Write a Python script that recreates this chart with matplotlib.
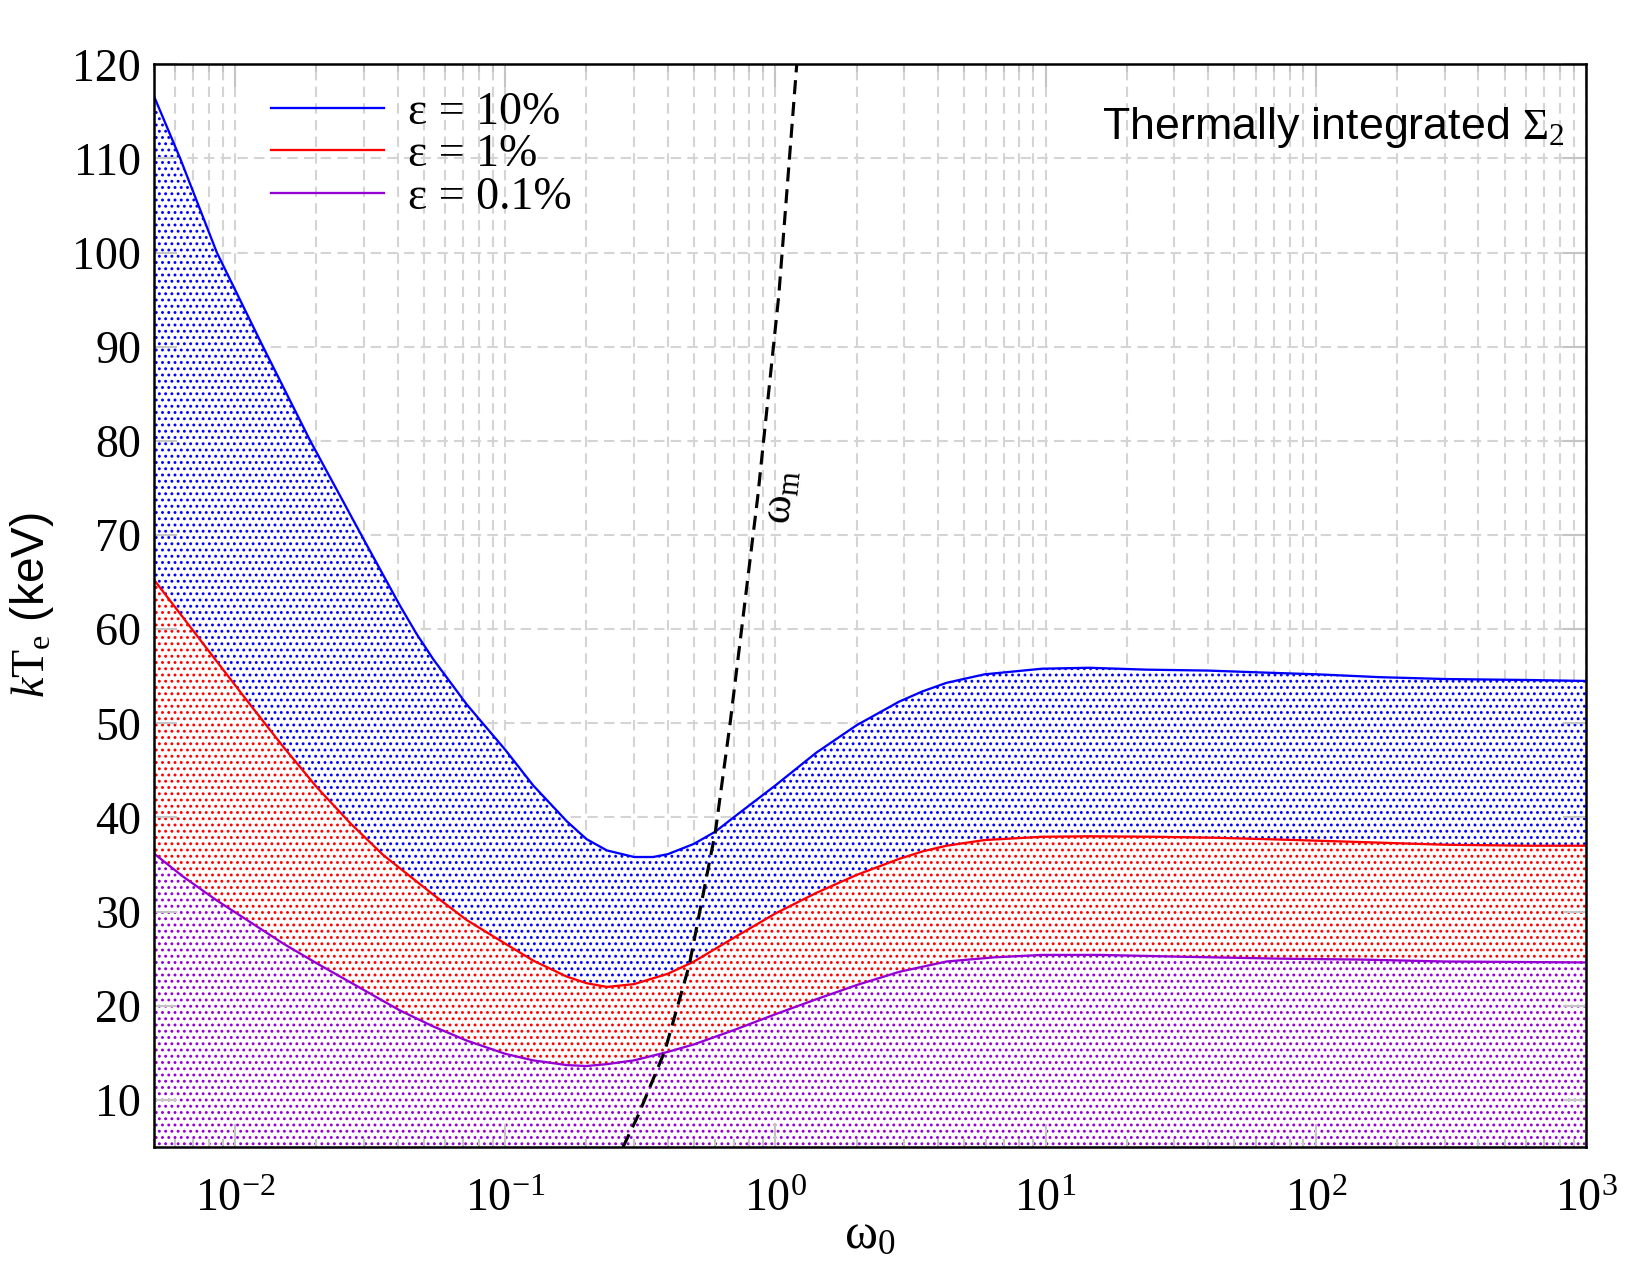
import matplotlib.pyplot as plt
from matplotlib.ticker import LogLocator, MultipleLocator, NullFormatter

plt.rcParams['font.family'] = ['Liberation Serif', 'DejaVu Serif']
plt.rcParams['mathtext.fontset'] = 'custom'
plt.rcParams['mathtext.rm'] = 'Liberation Serif'
plt.rcParams['mathtext.it'] = 'Liberation Serif:italic'
plt.rcParams['mathtext.bf'] = 'Liberation Serif:bold'
plt.rcParams['hatch.linewidth'] = 0.8

# curves: omega_0 vs kT_e (keV)
omega_blue = [0.005, 0.00627, 0.00857, 0.0127, 0.019, 0.030, 0.0408, 0.047, 0.0542,
              0.0721, 0.1, 0.127, 0.169, 0.2, 0.238, 0.3, 0.353, 0.4, 0.5, 0.6, 0.7,
              1.0, 1.42, 2.0, 2.87, 3.51, 4.3, 5.94, 9.7, 14.5, 23.6, 40, 62.7, 102,
              173, 305, 610, 1000]
kT_blue = [116.7, 110.0, 100.0, 90.0, 80.0, 69.5, 62.5, 59.5, 56.8,
           52.0, 47.2, 43.4, 39.6, 37.7, 36.5, 35.8, 35.8, 36.1, 37.2, 38.5, 40.0,
           43.4, 46.9, 49.8, 52.3, 53.4, 54.3, 55.2, 55.8, 55.9, 55.7, 55.6, 55.4, 55.2,
           54.9, 54.7, 54.6, 54.5]

omega_red = [0.005, 0.00644, 0.00855, 0.01137, 0.0151, 0.0201, 0.0267, 0.0354, 0.0408,
             0.0542, 0.0721, 0.1, 0.127, 0.169, 0.2, 0.238, 0.3, 0.4, 0.5, 0.7, 1.0,
             1.42, 2.0, 2.87, 3.51, 4.3, 5.94, 9.7, 14.5, 25, 42, 65, 110, 305, 610, 1000]
kT_red = [65.3, 61.2, 56.6, 52.0, 47.5, 43.2, 39.4, 36.0, 34.6,
          31.8, 29.1, 26.6, 24.8, 23.1, 22.4, 22.0, 22.3, 23.4, 24.7, 27.2, 29.8,
          32.0, 33.9, 35.6, 36.4, 37.0, 37.6, 37.95, 38.0, 37.95, 37.85, 37.7, 37.5, 37.1, 37.0, 37.0]

omega_violet = [0.005, 0.00644, 0.00855, 0.01137, 0.0151, 0.0201, 0.0267, 0.0354, 0.0408,
                0.0542, 0.0721, 0.1, 0.127, 0.169, 0.2, 0.238, 0.3, 0.4, 0.5, 0.7, 1.0,
                1.42, 2.0, 2.87, 4.3, 6.5, 9.7, 16, 33, 75, 150, 300, 1000]
kT_violet = [36.2, 33.7, 31.2, 28.9, 26.6, 24.5, 22.5, 20.5, 19.5,
             17.8, 16.3, 14.9, 14.2, 13.7, 13.6, 13.8, 14.2, 15.1, 15.9, 17.4, 19.1,
             20.7, 22.2, 23.6, 24.7, 25.15, 25.4, 25.4, 25.2, 25.0, 24.9, 24.7, 24.6]

# omega_m line
omega_m = [0.273, 0.31, 0.39, 0.48, 0.60, 0.68, 0.75, 0.86, 1.03, 1.2]
kT_m = [5, 8.3, 15.2, 24.3, 38.5, 50, 60, 74, 95.5, 120]

series = [
    (omega_blue, kT_blue, '#0000ff', 'ε = 10%'),
    (omega_red, kT_red, '#ff0000', 'ε = 1%'),
    (omega_violet, kT_violet, '#9400d3', 'ε = 0.1%'),
]

fig = plt.figure(figsize=(11, 8.5), dpi=150)
ax = fig.add_axes([0.0931, 0.1004, 0.8681, 0.8492])
ax.set_xscale('log')

for i, (om, kt, col, lab) in enumerate(series):
    ax.fill_between(om, kt, 0, facecolor='white', edgecolor=col, hatch='....',
                    linewidth=0, zorder=1 + 0.1 * i)
    ax.plot(om, kt, color=col, lw=1.1, label=lab, zorder=3)

ax.plot(omega_m, kT_m, color='black', lw=1.5, ls=(0, (4.5, 2.5)), zorder=4)
ax.text(1.05, 74, r'ω$_\mathrm{m}$', fontsize=21, rotation=84,
        ha='center', va='center', zorder=5)

ax.set_xlim(0.005, 1000)
ax.set_ylim(5, 120)
ax.xaxis.set_major_locator(LogLocator(base=10, numticks=20))
ax.xaxis.set_minor_locator(LogLocator(base=10, subs=range(2, 10), numticks=100))
ax.xaxis.set_minor_formatter(NullFormatter())
ax.yaxis.set_major_locator(MultipleLocator(10))

gray_grid = '#d4d4d4'
ax.set_axisbelow(True)
ax.grid(True, which='major', color=gray_grid, ls=(0, (5, 3)), lw=1.0)
ax.grid(True, which='minor', axis='x', color=gray_grid, ls=(0, (5, 3)), lw=1.0)
ax.tick_params(which='both', length=0, labelsize=22)
ax.tick_params(axis='x', pad=15)
ax.tick_params(axis='y', pad=6)
for s in ax.spines.values():
    s.set_visible(False)

# tick marks drawn on top of the hatched fills
ov = fig.add_axes(ax.get_position(), sharex=ax, sharey=ax)
ov.patch.set_visible(False)
ov.tick_params(which='both', direction='in', top=True, right=True,
               labelbottom=False, labelleft=False, color='#c4c4c4', width=1.0)
ov.tick_params(which='major', length=11)
ov.tick_params(which='minor', length=4)
for s in ov.spines.values():
    s.set_linewidth(1.2)

ax.set_xlabel(r'ω$_0$', fontsize=24, labelpad=-4)
ax.set_ylabel(r'$\mathit{k}\mathrm{T}_\mathrm{e}$ (keV)', fontsize=22,
              family=['Liberation Sans', 'DejaVu Sans'], labelpad=8)

ax.text(0.985, 0.962, r'Thermally integrated $\Sigma_2$', transform=ax.transAxes,
        ha='right', va='top', fontsize=21.5, family=['Liberation Sans', 'DejaVu Sans'],
        zorder=5)

leg = ax.legend(loc='upper left', bbox_to_anchor=(0.082, 0.975), frameon=False,
                fontsize=22, handlelength=2.47, handletextpad=0.52,
                labelspacing=0.0, borderpad=0, borderaxespad=0)

fig.savefig('out.png', dpi=150)
